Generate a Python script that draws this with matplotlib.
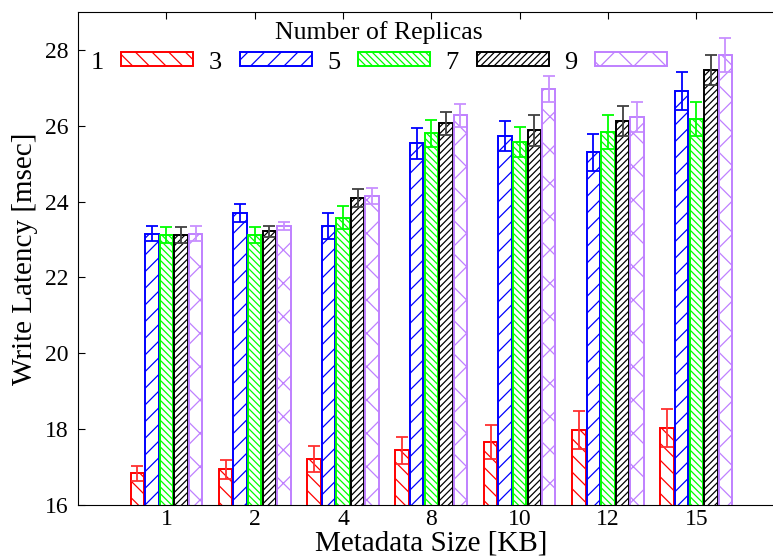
import numpy as np
import matplotlib
matplotlib.use("Agg")
import matplotlib.pyplot as plt

sizes = ["1", "2", "4", "8", "10", "12", "15"]
replicas = ["1", "3", "5", "7", "9"]

lat_r1 = [16.83, 16.94, 17.22, 17.44, 17.67, 17.97, 18.02]
err_r1 = [0.20, 0.25, 0.34, 0.35, 0.45, 0.50, 0.50]
lat_r3 = [23.16, 23.71, 23.36, 25.54, 25.74, 25.30, 26.92]
err_r3 = [0.20, 0.24, 0.34, 0.40, 0.39, 0.49, 0.49]
lat_r5 = [23.12, 23.12, 23.58, 25.80, 25.58, 25.83, 26.18]
err_r5 = [0.20, 0.20, 0.30, 0.35, 0.40, 0.45, 0.45]
lat_r7 = [23.12, 23.22, 24.10, 26.07, 25.88, 26.13, 27.47]
err_r7 = [0.20, 0.15, 0.23, 0.30, 0.40, 0.40, 0.39]
lat_r9 = [23.16, 23.36, 24.15, 26.28, 26.97, 26.23, 27.86]
err_r9 = [0.20, 0.10, 0.20, 0.30, 0.35, 0.40, 0.45]

series = [lat_r1, lat_r3, lat_r5, lat_r7, lat_r9]
errors = [err_r1, err_r3, err_r5, err_r7, err_r9]
colors = ["#ff0000", "#0000ff", "#00ff00", "#000000", "#bf80ff"]
err_colors = ["#ff3030", "#0000ff", "#00ff00", "#404040", "#c890ff"]
hatches = ["\\\\", "//", "\\\\\\\\\\", "/////", "x"]

plt.rcParams["font.family"] = ["Liberation Serif", "DejaVu Serif"]
plt.rcParams["hatch.linewidth"] = 0.9

fig = plt.figure(figsize=(7.73, 5.56), dpi=100)
ax = fig.add_axes([0.101, 0.092, 0.914, 0.886])

x = np.arange(1, len(sizes) + 1)
w = 0.165
for i in range(len(replicas)):
    ax.bar(x + (i - 2) * w, series[i], w * 0.92, bottom=0,
           color="white", edgecolor=colors[i], hatch=hatches[i],
           linewidth=1.4, label=replicas[i], zorder=2)
    ax.errorbar(x + (i - 2) * w, series[i], yerr=errors[i], fmt="none",
                ecolor=err_colors[i], elinewidth=1.3, capsize=4,
                capthick=1.3, zorder=3)

ax.set_xlim(0, 8)
ax.set_ylim(16, 29)
ax.set_xticks(x)
ax.set_xticklabels(sizes)
ax.set_yticks([16, 18, 20, 22, 24, 26, 28])
ax.tick_params(direction="in", labelsize=17, top=True, right=True, length=5)
ax.tick_params(axis="x", pad=3)
ax.tick_params(axis="y", pad=7)
ax.set_xlabel("Metadata Size [KB]", fontsize=21, labelpad=0)
ax.set_ylabel("Write Latency [msec]", fontsize=21, labelpad=5)

leg = ax.legend(title="Number of Replicas", ncol=5, frameon=False,
                markerfirst=False, loc="upper center",
                bbox_to_anchor=(0.4256, 1.004), fontsize=19, title_fontsize=18.5,
                handlelength=2.73, handleheight=0.45, columnspacing=0.58,
                handletextpad=0.68, labelspacing=0.3, borderaxespad=0.0)

fig.savefig("out.png", dpi=100)
